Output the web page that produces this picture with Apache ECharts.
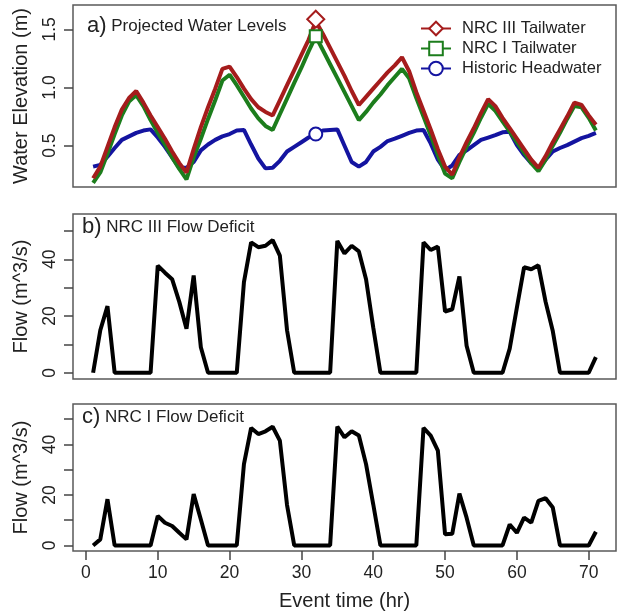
<!DOCTYPE html>
<html>
<head>
<meta charset="utf-8">
<script src="https://cdn.jsdelivr.net/npm/echarts@6/dist/echarts.min.js"></script>
<style>
html,body{margin:0;padding:0;background:#fff;}
#chart{width:618px;height:612px;}
</style>
</head>
<body>
<div id="chart"></div>
<script>
const hours = [1,2,3,4,5,6,7,8,9,10,11,12,13,14,15,16,17,18,19,20,21,22,23,24,25,26,27,28,29,30,31,32,33,34,35,36,37,38,39,40,41,42,43,44,45,46,47,48,49,50,51,52,53,54,55,56,57,58,59,60,61,62,63,64,65,66,67,68,69,70,71];

const nrc3Tail = [0.22,0.32,0.49,0.66,0.81,0.91,0.97,0.87,0.76,0.66,0.56,0.45,0.35,0.27,0.47,0.66,0.83,0.99,1.16,1.18,1.09,0.99,0.90,0.83,0.79,0.76,0.89,1.02,1.15,1.28,1.41,1.57,1.46,1.34,1.22,1.10,0.97,0.85,0.92,0.99,1.06,1.13,1.19,1.26,1.14,0.96,0.80,0.64,0.47,0.32,0.25,0.40,0.53,0.65,0.78,0.90,0.84,0.74,0.65,0.56,0.47,0.38,0.31,0.41,0.53,0.64,0.75,0.87,0.85,0.76,0.68];

const nrc1Tail = [0.18,0.27,0.43,0.60,0.76,0.88,0.935,0.84,0.72,0.61,0.51,0.40,0.30,0.21,0.40,0.56,0.73,0.89,1.06,1.11,1.02,0.92,0.82,0.735,0.67,0.635,0.77,0.905,1.04,1.17,1.31,1.44,1.32,1.20,1.08,0.96,0.84,0.72,0.79,0.87,0.94,1.02,1.09,1.16,1.08,0.91,0.75,0.59,0.42,0.26,0.22,0.36,0.49,0.61,0.74,0.86,0.80,0.71,0.62,0.53,0.44,0.35,0.28,0.38,0.50,0.61,0.73,0.84,0.83,0.74,0.63];

const histHead = [0.32,0.335,0.405,0.48,0.55,0.58,0.61,0.63,0.64,0.57,0.49,0.40,0.31,0.31,0.36,0.46,0.51,0.55,0.58,0.60,0.63,0.635,0.51,0.39,0.305,0.31,0.37,0.45,0.49,0.53,0.57,0.60,0.63,0.635,0.64,0.50,0.36,0.32,0.36,0.45,0.49,0.54,0.56,0.585,0.61,0.63,0.635,0.52,0.38,0.29,0.33,0.42,0.46,0.505,0.55,0.57,0.59,0.615,0.62,0.505,0.42,0.35,0.305,0.38,0.45,0.48,0.505,0.535,0.565,0.585,0.61];

const flowNRC3 = [0,15,23.5,0,0,0,0,0,0,37.8,35.3,33,25,15.5,34.3,9,0,0,0,0,0,32,46,44.3,44.8,46.8,41.3,15,0,0,0,0,0,0,46.5,42.1,44.8,42.8,33,16,0,0,0,0,0,0,46,43.3,44.5,21.6,22.4,34,9.5,0,0,0,0,0,8.5,23,37.2,36.5,37.9,25,14.7,0,0,0,0,0,5.5];

const flowNRC1 = [0,2.4,18.3,0,0,0,0,0,0,11.7,9,7.7,5,2.4,20.3,10.3,0,0,0,0,0,32.2,46.5,44.1,45.2,47,41.5,16,0,0,0,0,0,0,47,42.8,45.2,43.5,32.2,16.3,0,0,0,0,0,0,46.5,43.5,37.5,4.4,4.6,20.5,11,0,0,0,0,0,8.3,5,11,9,17.6,18.7,15,0,0,0,0,0,5.4];

const markerHour = 32;
const xTicks = [0,10,20,30,40,50,60,70];
const elevTicks = [0.5,1.0,1.5];
const flowTicks = [0,10,20,30,40,50];
const flowLabels = [0,20,40];

const panelTitles = ['Projected Water Levels','NRC III Flow Deficit','NRC I Flow Deficit'];
const panelLetters = ['a)','b)','c)'];
const seriesNames = ['NRC III Tailwater','NRC I Tailwater','Historic Headwater'];

const RED = '#a51c1c', GREEN = '#1c7d1c', BLUE = '#1414a0';
const TXT = '#222';
const FONT = 'Liberation Sans, Arial, sans-serif';

function marked(vals) {
  return hours.map((h, i) => h === markerHour ? { value: [h, vals[i]] } : { value: [h, vals[i]], symbol: 'none' });
}
function plain(vals) { return hours.map((h, i) => [h, vals[i]]); }

const grids = [
  { left: 73, right: 2, top: 5, height: 182 },
  { left: 73, right: 2, top: 214, height: 165 },
  { left: 73, right: 2, top: 404, height: 147 }
].map(g => Object.assign(g, { show: true, borderColor: '#5a5a5a', borderWidth: 1.5, backgroundColor: 'transparent' }));

const xAxes = [0,1,2].map(i => ({
  type: 'value', gridIndex: i, min: -1.8, max: 73.8,
  splitLine: { show: false },
  axisLine: { show: false, onZero: false },
  axisTick: { show: i === 2, customValues: xTicks, length: 9, lineStyle: { color: '#444', width: 1.5 } },
  axisLabel: { show: i === 2, customValues: xTicks, fontSize: 17.5, color: TXT, margin: 13, fontFamily: FONT },
  name: i === 2 ? 'Event time (hr)' : '',
  nameLocation: 'middle', nameGap: 40,
  nameTextStyle: { fontSize: 20, color: TXT, fontFamily: FONT }
}));

function yAxis(i, min, max, ticks, labels, name, fmt) {
  return {
    type: 'value', gridIndex: i, min: min, max: max,
    splitLine: { show: false },
    axisLine: { show: false, onZero: false },
    axisTick: { show: true, customValues: ticks, length: 9, lineStyle: { color: '#444', width: 1.5 } },
    axisLabel: { customValues: labels, rotate: 90, fontSize: 17.5, color: TXT, margin: 14, formatter: fmt, fontFamily: FONT },
    name: name, nameLocation: 'middle', nameRotate: 90, nameGap: 42,
    nameTextStyle: { fontSize: 20, color: TXT, fontFamily: FONT }
  };
}

const yAxes = [
  yAxis(0, 0.145, 1.709, elevTicks, elevTicks, 'Water Elevation (m)', v => v.toFixed(1)),
  yAxis(1, -2.2, 56, flowTicks, flowLabels, 'Flow (m^3/s)', v => String(v)),
  yAxis(2, -2.2, 56, flowTicks, flowLabels, 'Flow (m^3/s)', v => String(v))
];

const titleTops = [15, 216, 406];
const titleLefts = [87, 82, 82];
const titles = [0,1,2].map(i => ({
  left: titleLefts[i], top: titleTops[i], padding: 0,
  text: '{a|' + panelLetters[i] + '} {b|' + panelTitles[i] + '}',
  textStyle: {
    fontSize: 17, color: TXT, fontWeight: 'normal', fontFamily: FONT,
    rich: {
      a: { fontSize: 22, color: TXT, fontFamily: FONT },
      b: { fontSize: 17, color: TXT, fontFamily: FONT }
    }
  }
}));

const lw = 4;
const option = {
  animation: false,
  backgroundColor: '#fff',
  title: titles,
  grid: grids,
  xAxis: xAxes,
  yAxis: yAxes,
  legend: {
    data: seriesNames,
    orient: 'vertical', left: 415, top: 15, padding: 5,
    itemWidth: 30, itemHeight: 17, itemGap: 3,
    textStyle: { fontSize: 16.5, color: TXT, fontFamily: FONT, padding: [0, 0, 0, 6] }
  },
  series: [
    { name: seriesNames[2], type: 'line', xAxisIndex: 0, yAxisIndex: 0, data: marked(histHead),
      symbol: 'emptyCircle', symbolSize: 13, color: BLUE,
      lineStyle: { color: BLUE, width: lw }, itemStyle: { color: BLUE, borderColor: BLUE, borderWidth: 2.5 } },
    { name: seriesNames[1], type: 'line', xAxisIndex: 0, yAxisIndex: 0, data: marked(nrc1Tail),
      symbol: 'emptyRect', symbolSize: 12, color: GREEN,
      lineStyle: { color: GREEN, width: lw }, itemStyle: { color: GREEN, borderColor: GREEN, borderWidth: 2.5 } },
    { name: seriesNames[0], type: 'line', xAxisIndex: 0, yAxisIndex: 0, data: marked(nrc3Tail),
      symbol: 'emptyDiamond', symbolSize: [17, 17], symbolOffset: [0, -2], color: RED,
      lineStyle: { color: RED, width: lw }, itemStyle: { color: RED, borderColor: RED, borderWidth: 2.5 } },
    { name: 'flow3', type: 'line', xAxisIndex: 1, yAxisIndex: 1, data: plain(flowNRC3),
      symbol: 'none', lineStyle: { color: '#000', width: lw } },
    { name: 'flow1', type: 'line', xAxisIndex: 2, yAxisIndex: 2, data: plain(flowNRC1),
      symbol: 'none', lineStyle: { color: '#000', width: lw } }
  ]
};

const chart = echarts.init(document.getElementById('chart'), null, { renderer: 'canvas' });
chart.setOption(option);
</script>
</body>
</html>
